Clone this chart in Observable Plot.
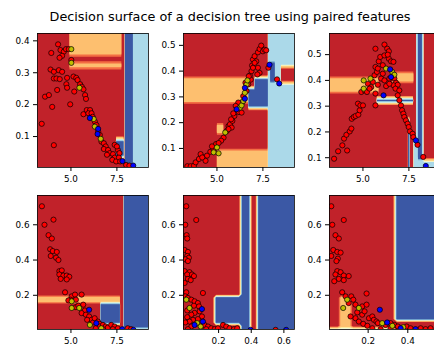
<!DOCTYPE html>
<html><head><meta charset="utf-8">
<script src="https://cdn.jsdelivr.net/npm/d3@7"></script>
<script src="https://cdn.jsdelivr.net/npm/@observablehq/plot@0.6"></script>
<style>
body{margin:0;background:#fff;overflow:hidden}
#wrap{position:relative;width:434px;height:346px;overflow:hidden;font-family:"DejaVu Sans",sans-serif}
#title{position:absolute;left:0;top:9px;width:460px;text-align:center;font-size:12.8px;color:#000;white-space:nowrap}
.panel{position:absolute}
</style></head><body>
<div id="wrap"><div id="title"></div></div>
<script>
const titleText = "Decision surface of a decision tree using paired features";
const pointColors = ["#ff0000", "#bfbf00", "#0000ff"];
const surfaceThresholds = [-1, 0.35, 0.7, 1.3, 1.6, 1.85, 2.4, 2.65];
const surfaceColors = ["#c1222a", "#f46d43", "#fdbf6f", "#fee99a", "#f4fad6", "#abd9e9", "#74add1", "#3b58a5"];
const gridStep = 0.02;

// axis extents [xmin, xmax, ymin, ymax]
const extent1 = [3.18, 9.22, 0.003, 0.423];
const extent2 = [3.18, 9.22, 0.026, 0.546];
const extent3 = [3.18, 9.22, 0.062, 0.582];
const extent4 = [3.18, 9.22, 0.006, 0.766];
const extent5 = [-0.015, 0.665, 0.006, 0.766];
const extent6 = [0.005, 0.565, 0.006, 0.766];

const xTicksA = [5.0, 7.5];
const xTicks5 = [0.2, 0.4, 0.6];
const xTicks6 = [0.2, 0.4];
const yTicks1 = [0.1, 0.2, 0.3, 0.4];
const yTicks2 = [0.1, 0.2, 0.3, 0.4, 0.5];
const yTicks4 = [0.2, 0.4, 0.6];

// decision regions: [x1, x2, y1, y2, class]; painted in order over the background class
const background1 = 0;
const regions1 = [
  [4.92, 7.75, 0.353, 2, 1],
  [4.92, 7.75, 0.313, 0.333, 1],
  [7.93, 8.37, -1, 2, 3],
  [8.37, 20, -1, 2, 2],
  [7.45, 7.88, 0.033, 0.093, 3],
  [7.93, 8.37, -1, 0.013, 2]
];
const background2 = 0;
const regions2 = [
  [-1, 6.75, 0.276, 0.376, 1],
  [6.72, 7.77, 0.256, 0.336, 3],
  [7.05, 7.77, 0.336, 0.376, 3],
  [7.77, 20, -1, 2, 2],
  [7.9, 8.15, 0.356, 0.436, 3],
  [8.47, 20, 0.356, 0.416, 0],
  [5.0, 5.36, 0.156, 0.196, 1],
  [5.0, 7.77, -1, 0.096, 1]
];
const background3 = 0;
const regions3 = [
  [-1, 5.85, 0.352, 0.412, 1],
  [6.6, 7.75, 0.392, 0.432, 1],
  [5.76, 7.74, 0.312, 0.332, 3],
  [7.75, 8.3, -1, 0.175, 2],
  [7.9, 8.3, -1, 2, 2],
  [8.0, 8.22, 0.09, 2, 3],
  [7.44, 7.53, -1, 0.245, 3],
  [8.22, 20, -1, 0.092, 2]
];
const background4 = 0;
const regions4 = [
  [7.88, 20, -1, 2, 3],
  [-1, 7.68, 0.156, 0.196, 1],
  [6.61, 7.68, 0.036, 0.15, 3],
  [6.6, 20, -1, 0.016, 2]
];
const background5 = 3;
const regions5 = [
  [-1, 0.335, 0.196, 2, 0],
  [-1, 0.175, -1, 0.2, 0],
  [-1, 0.335, -1, 0.036, 0],
  [0.395, 0.435, -1, 2, 0]
];
const background6 = 3;
const regions6 = [
  [-1, 0.335, -1, 2, 0],
  [0.335, 2, -1, 0.05, 0],
  [0.055, 0.115, -1, 0.19, 1],
  [-1, 0.335, -1, 0.016, 2]
];

// training points: [x, y, class]
const points1 = [
  [3.93,0.362,0],[4.30,0.389,0],[4.43,0.371,0],[4.61,0.366,0],[4.52,0.353,0],[4.38,0.347,0],[4.73,0.374,0],[4.88,0.374,0],
  [5.02,0.374,1],[5.02,0.34,0],[5.02,0.331,1],[3.89,0.31,0],[4.07,0.303,0],[4.34,0.308,0],[4.52,0.303,0],[4.07,0.282,0],
  [4.21,0.282,0],[4.39,0.28,0],[4.79,0.284,0],[4.75,0.264,0],[4.79,0.253,0],[5.14,0.288,0],[5.29,0.284,0],[5.36,0.277,0],
  [5.5,0.264,0],[5.46,0.253,1],[5.59,0.256,0],[5.68,0.248,0],[5.18,0.241,0],[4.25,0.246,0],[3.59,0.225,0],[3.8,0.23,0],
  [3.98,0.193,0],[4.96,0.201,0],[3.41,0.14,0],[4.07,0.073,0],[5.77,0.23,0],[5.82,0.218,0],[5.68,0.17,0],
  [5.86,0.183,0],[6.04,0.183,0],[5.95,0.173,0],[6.12,0.173,0],[6.18,0.162,0],[6.3,0.147,0],[6.39,0.136,0],
  [6.48,0.116,0],[6.57,0.105,0],[6.66,0.084,0],[6.79,0.079,0],[6.89,0.069,0],[6.79,0.061,0],[7.02,0.058,0],[7.11,0.048,0],
  [6.96,0.043,0],[7.29,0.045,0],[7.38,0.034,0],[7.25,0.027,0],[7.46,0.022,0],[7.55,0.058,0],[7.64,0.048,0],[7.61,0.034,0],
  [7.68,0.022,0],[8.0,0.011,0],[8.18,0.009,0],[7.38,0.074,0],[7.5,0.069,0],
  [6.24,0.155,1],[6.3,0.131,1],[6.62,0.093,1],
  [6.03,0.158,2],[6.48,0.124,2],[6.45,0.108,2],[7.8,0.023,2],[8.39,0.009,2]
];
const points2 = [
  [3.39,0.031,0],[3.57,0.031,0],[3.75,0.033,0],[3.84,0.046,0],[4.02,0.059,0],[4.11,0.078,0],[4.29,0.065,0],[4.38,0.052,0],
  [4.46,0.072,0],[4.64,0.087,0],[4.82,0.095,0],[4.95,0.117,0],[5.36,0.142,0],[5.54,0.168,0],[5.63,0.187,0],[5.71,0.194,0],
  [5.8,0.181,0],[5.84,0.207,0],[5.95,0.226,0],[5.89,0.236,0],[6.2,0.241,0],[6.34,0.239,0],[6.39,0.28,0],[6.55,0.355,0],
  [6.79,0.383,0],[6.88,0.4,0],[6.91,0.422,0],[6.96,0.445,0],[7.05,0.458,0],[7.14,0.438,0],[7.23,0.473,0],[7.32,0.486,0],
  [7.41,0.499,0],[7.5,0.477,0],[7.59,0.483,0],[7.68,0.481,0],[7.23,0.413,0],[7.32,0.393,0],[7.2,0.387,0],[6.84,0.367,0],
  [7.8,0.413,0],[8.27,0.368,0],[7.05,0.432,0],[6.96,0.413,0],[6.73,0.38,0],[6.7,0.348,0],[6.61,0.323,0],[6.43,0.303,0],
  [6.16,0.278,0],[6.02,0.265,0],[5.77,0.213,0],[5.63,0.175,0],[5.23,0.13,0],[5.09,0.121,0],[4.73,0.108,0],[4.2,0.065,0],
  [4.82,0.085,1],[5.0,0.104,1],[5.09,0.081,1],[5.45,0.162,1],[6.25,0.258,1],[6.34,0.267,1],[6.43,0.284,1],[6.52,0.316,1],
  [6.61,0.348,1],[6.66,0.364,1],
  [6.07,0.252,2],[6.52,0.293,2],[6.52,0.335,2],[7.86,0.425,2],[8.39,0.352,2]
];
const points3 = [
  [3.43,0.096,0],[3.65,0.125,0],[3.88,0.148,0],[4.14,0.128,0],[3.97,0.174,0],[4.1,0.189,0],[4.28,0.202,0],[4.37,0.213,0],
  [4.39,0.251,0],[4.5,0.258,0],[4.6,0.262,0],[4.75,0.267,0],[4.82,0.284,0],[4.73,0.31,0],[4.86,0.303,0],[5.0,0.303,0],
  [4.91,0.355,0],[5.09,0.361,0],[5.22,0.355,0],[5.27,0.387,0],[5.45,0.374,0],[5.54,0.394,0],[5.63,0.42,0],[5.68,0.452,0],
  [5.76,0.433,0],[5.86,0.474,0],[5.68,0.523,0],[5.94,0.491,0],[5.81,0.383,0],[5.68,0.349,0],[6.08,0.426,0],[6.17,0.497,0],
  [6.17,0.539,0],[6.32,0.523,0],[6.41,0.513,0],[6.41,0.484,0],[6.53,0.474,0],[6.66,0.472,0],[5.99,0.407,0],[6.17,0.4,0],
  [6.26,0.378,0],[5.68,0.303,0],[6.71,0.407,0],[6.44,0.407,0],[6.8,0.391,0],[6.66,0.381,0],[6.89,0.383,0],[6.77,0.368,0],
  [6.98,0.361,0],[6.89,0.342,0],[6.98,0.323,0],[7.07,0.303,0],[7.13,0.284,0],[7.2,0.271,0],[7.25,0.258,0],[7.34,0.245,0],
  [7.43,0.232,0],[7.49,0.219,0],[7.56,0.202,0],[7.7,0.193,0],[7.74,0.18,0],[7.97,0.15,0],[8.28,0.103,0],
  [6.35,0.5,0],[6.08,0.459,0],[5.81,0.446,0],[5.36,0.368,0],[6.44,0.387,0],
  [5.04,0.368,1],[5.04,0.4,1],[5.41,0.407,1],[6.26,0.446,1],[6.59,0.433,1],[6.71,0.422,1],
  [6.12,0.342,2],[6.48,0.443,2],[6.53,0.413,2],[7.88,0.167,2],[8.42,0.068,2]
];
const points4 = [
  [3.42,0.705,0],[3.56,0.6,0],[4.05,0.629,0],[3.78,0.541,0],[3.96,0.522,0],[3.87,0.461,0],[4.01,0.451,0],[3.9,0.423,0],
  [4.23,0.446,0],[4.19,0.413,0],[4.32,0.4,0],[4.37,0.337,0],[4.5,0.341,0],[4.37,0.318,0],[4.59,0.312,0],[4.44,0.293,0],
  [4.77,0.312,0],[4.91,0.305,0],[4.77,0.29,0],[4.68,0.217,0],[5.04,0.194,0],[4.98,0.175,0],[5.22,0.204,0],[5.58,0.204,0],
  [5.27,0.175,0],[4.86,0.171,0],[5.27,0.133,0],[5.4,0.141,0],[5.67,0.147,0],[5.76,0.114,0],[5.58,0.099,0],[5.81,0.09,0],
  [5.99,0.08,0],[6.12,0.061,0],[6.2,0.046,0],[5.88,0.061,0],[6.29,0.07,0],[6.47,0.051,0],[6.56,0.038,0],[6.56,0.023,0],
  [6.74,0.032,0],[6.89,0.023,0],[7.01,0.017,0],[7.19,0.032,0],[7.37,0.023,0],[7.28,0.008,0],[7.55,0.013,0],[8.09,0.013,0],
  [8.27,0.008,0],[6.35,0.013,0],[6.74,0.008,0],
  [5.04,0.166,1],[5.04,0.128,1],[5.45,0.128,1],[6.65,0.013,1],[6.03,0.032,1],
  [5.99,0.118,2],[6.38,0.042,2],[7.79,0.008,2],[8.4,0.004,2]
];
const points5 = [
  [0.002,0.705,0],[-0.004,0.6,0],[0.063,0.627,0],[0.004,0.541,0],[0.008,0.522,0],[-0.008,0.457,0],[0.012,0.446,0],[0.008,0.423,0],
  [0.018,0.413,0],[-0.004,0.404,0],[0.012,0.394,0],[-0.008,0.337,0],[0.022,0.331,0],[0.008,0.318,0],[0.037,0.318,0],[0.049,0.309,0],
  [0.012,0.293,0],[0.029,0.286,0],[-0.008,0.27,0],[0.002,0.217,0],[0.104,0.213,0],[-0.004,0.194,0],[0.012,0.185,0],[0.033,0.175,0],
  [0.053,0.166,0],[0.073,0.156,0],[0.008,0.114,0],[0.049,0.141,0],[0.08,0.137,0],[0.084,0.109,0],[0.053,0.1,0],[0.033,0.09,0],
  [0.008,0.076,0],[0.098,0.08,0],[0.073,0.065,0],[0.043,0.061,0],[0.022,0.051,0],[-0.004,0.046,0],[0.114,0.032,0],[0.135,0.023,0],
  [0.155,0.013,0],[0.124,0.008,0],[0.176,0.008,0],[0.196,0.013,0],[0.227,0.032,0],[0.247,0.023,0],[0.267,0.013,0],[0.294,0.008,0],
  [0.314,0.013,0],[0.033,0.023,0],[0.012,0.008,0],[0.549,0.004,0],
  [0.002,0.175,1],[0.022,0.128,1],[0.069,0.042,1],[0.09,0.023,1],
  [0.098,0.122,2],[0.053,0.032,2],[0.104,0.051,2],[0.396,0.004,2],[0.614,0.004,2]
];
const points6 = [
  [0.014,0.705,0],[0.077,0.627,0],[0.019,0.6,0],[0.035,0.541,0],[0.052,0.522,0],[0.024,0.457,0],[0.044,0.446,0],[0.061,0.442,0],
  [0.014,0.423,0],[0.047,0.408,0],[0.04,0.394,0],[0.044,0.337,0],[0.061,0.331,0],[0.077,0.312,0],[0.035,0.318,0],[0.102,0.309,0],
  [0.052,0.293,0],[0.077,0.286,0],[0.029,0.28,0],[0.069,0.217,0],[0.192,0.21,0],[0.086,0.194,0],[0.115,0.194,0],[0.125,0.175,0],
  [0.102,0.156,0],[0.136,0.147,0],[0.17,0.137,0],[0.192,0.147,0],[0.145,0.103,0],[0.17,0.09,0],[0.182,0.109,0],[0.204,0.07,0],
  [0.221,0.08,0],[0.229,0.061,0],[0.242,0.051,0],[0.249,0.042,0],[0.288,0.032,0],[0.313,0.042,0],[0.333,0.032,0],[0.35,0.023,0],
  [0.394,0.023,0],[0.414,0.013,0],[0.465,0.013,0],[0.49,0.008,0],[0.515,0.013,0],[0.136,0.07,0],[0.153,0.051,0],[0.175,0.038,0],
  [0.196,0.027,0],[0.221,0.013,0],[0.263,0.008,0],[0.111,0.08,0],[0.313,0.013,0],
  [0.094,0.175,1],[0.074,0.128,1],[0.153,0.128,1],[0.271,0.042,1],[0.322,0.027,1],[0.377,0.019,1],
  [0.259,0.118,2],[0.296,0.046,2],[0.364,0.013,2],[0.439,0.008,2]
];

const panels = [
  {extent: extent1, bg: background1, regions: regions1, points: points1, xTicks: xTicksA, yTicks: yTicks1, left: 37, top: 33},
  {extent: extent2, bg: background2, regions: regions2, points: points2, xTicks: xTicksA, yTicks: yTicks2, left: 183, top: 33},
  {extent: extent3, bg: background3, regions: regions3, points: points3, xTicks: xTicksA, yTicks: yTicks2, left: 329, top: 33},
  {extent: extent4, bg: background4, regions: regions4, points: points4, xTicks: xTicksA, yTicks: yTicks4, left: 37, top: 195},
  {extent: extent5, bg: background5, regions: regions5, points: points5, xTicks: xTicks5, yTicks: yTicks4, left: 183, top: 195},
  {extent: extent6, bg: background6, regions: regions6, points: points6, xTicks: xTicks6, yTicks: yTicks4, left: 329, top: 195}
];

function surfaceGrid([x0, xe, y0, ye], bg, rects) {
  const nx = Math.round((xe - x0) / gridStep) + 1;
  const ny = Math.round((ye - y0) / gridStep) + 1;
  const values = new Array(nx * ny);
  for (let j = 0; j < ny; ++j) {
    const y = y0 + j * gridStep;
    for (let i = 0; i < nx; ++i) {
      const x = x0 + i * gridStep;
      let v = bg;
      for (const r of rects) if (x >= r[0] && x < r[1] && y >= r[2] && y < r[3]) v = r[4];
      values[j * nx + i] = v;
    }
  }
  return {values, nx, ny, xEnd: x0 + (nx - 1) * gridStep, yEnd: y0 + (ny - 1) * gridStep};
}

document.getElementById("title").textContent = titleText;
const wrap = document.getElementById("wrap");
const mL = 35, mR = 2, mT = 2, mB = 20, fw = 111, fh = 134;
const fmt = d3.format(".1f");

for (const p of panels) {
  const [x0, , y0] = p.extent;
  const g = surfaceGrid(p.extent, p.bg, p.regions);
  const h = gridStep / 2;
  const marks = [
    Plot.contour(g.values, {
      width: g.nx, height: g.ny,
      x1: x0 - h, x2: g.xEnd + h, y1: y0 - h, y2: g.yEnd + h,
      fill: Plot.identity, thresholds: surfaceThresholds, clip: true
    })
  ];
  for (let c = 0; c < 3; ++c) {
    marks.push(Plot.dot(p.points.filter(d => d[2] === c), {
      x: d => d[0], y: d => d[1], r: 2.6, fill: pointColors[c], stroke: "black", strokeWidth: 0.7, clip: true
    }));
  }
  marks.push(Plot.frame({stroke: "black", strokeWidth: 0.8}));
  marks.push(Plot.axisX({ticks: p.xTicks, tickFormat: fmt, tickSize: 4, tickPadding: 4, fontSize: 8.8, label: null}));
  marks.push(Plot.axisY({ticks: p.yTicks, tickFormat: fmt, tickSize: 4, tickPadding: 4, fontSize: 8.8, label: null}));
  const svg = Plot.plot({
    width: mL + fw + mR, height: mT + fh + mB,
    marginLeft: mL, marginRight: mR, marginTop: mT, marginBottom: mB,
    x: {domain: [x0, g.xEnd]},
    y: {domain: [y0, g.yEnd]},
    color: {type: "threshold", domain: surfaceThresholds.slice(1), range: surfaceColors},
    style: {fontFamily: "DejaVu Sans", color: "#000", background: "transparent", overflow: "visible"},
    marks
  });
  svg.classList.add("panel");
  svg.style.left = (p.left - mL) + "px";
  svg.style.top = (p.top - mT) + "px";
  svg.style.position = "absolute";
  wrap.appendChild(svg);
}
</script>
</body></html>
